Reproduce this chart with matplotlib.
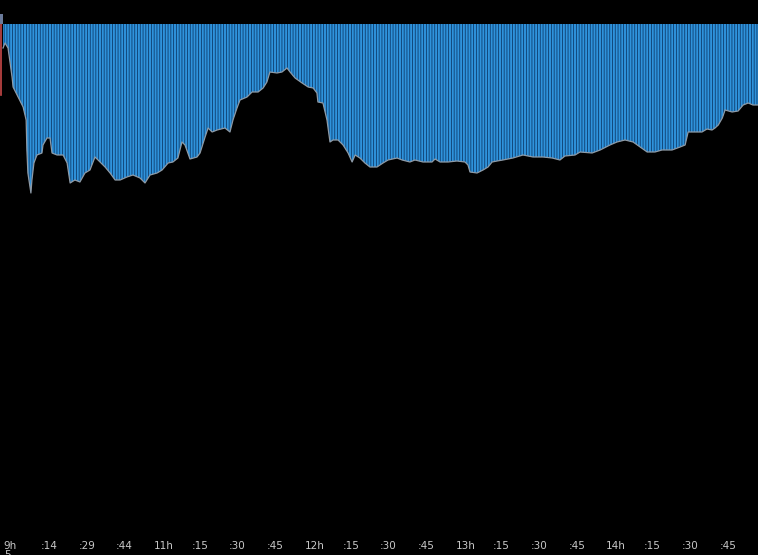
import matplotlib
matplotlib.use("Agg")
import matplotlib.pyplot as plt
from matplotlib.patches import Rectangle

# minutes since 9h
minutes = [0.0, 0.8, 2.0, 3.6, 4.0, 6.0, 8.0, 9.2, 9.5, 9.9, 11.1, 11.5, 12.3, 13.5, 15.5, 15.9,
           17.5, 18.7, 19.5, 21.5, 23.9, 25.5, 26.7, 28.6, 30.6, 32.6, 34.6, 36.6, 38.6, 40.6,
           42.6, 44.6, 46.6, 49.3, 51.7, 54.5, 56.5, 58.5, 61.3, 63.3, 65.7, 67.6, 69.6, 71.2,
           72.4, 74.4, 77.2, 78.4, 80.4, 81.6, 83.2, 85.2, 88.3, 90.3, 91.5, 93.1, 94.3, 97.1,
           99.1, 101.5, 103.5, 105.0, 106.2, 109.0, 111.0, 113.0, 114.2, 116.2, 119.0, 121.4,
           123.4, 124.9, 125.3, 127.3, 128.9, 130.1, 131.3, 133.3, 135.3, 137.3, 138.9, 140.1,
           142.0, 144.0, 146.0, 148.8, 151.2, 153.2, 156.8, 158.8, 161.9, 163.9, 167.1, 170.7,
           171.9, 173.9, 177.1, 180.6, 183.8, 185.0, 185.8, 188.6, 191.0, 193.0, 194.6, 196.6,
           198.9, 202.9, 206.9, 210.9, 214.9, 218.5, 221.6, 223.6, 227.6, 229.6, 234.4, 237.6,
           241.5, 244.3, 247.5, 250.7, 253.5, 256.3, 259.4, 262.2, 266.2, 269.4, 271.4, 272.6,
           275.4, 278.1, 280.1, 282.1, 283.3, 284.6, 286.2, 287.3, 290.1, 292.5, 294.5, 296.5,
           298.4, 300.4]
prices = [19.76, 19.81, 19.76, 19.47, 19.37, 19.27, 19.17, 19.04, 18.74, 18.51, 18.31, 18.44,
          18.61, 18.69, 18.71, 18.79, 18.86, 18.86, 18.71, 18.69, 18.69, 18.61, 18.41, 18.44,
          18.42, 18.51, 18.54, 18.67, 18.62, 18.57, 18.51, 18.44, 18.44, 18.47, 18.49, 18.46,
          18.41, 18.49, 18.51, 18.54, 18.61, 18.62, 18.66, 18.82, 18.79, 18.65, 18.67, 18.71,
          18.87, 18.96, 18.92, 18.94, 18.96, 18.92, 19.04, 19.16, 19.24, 19.27, 19.32, 19.32,
          19.36, 19.42, 19.52, 19.51, 19.52, 19.56, 19.52, 19.46, 19.41, 19.37, 19.36, 19.31,
          19.22, 19.21, 19.04, 18.82, 18.84, 18.84, 18.79, 18.71, 18.62, 18.69, 18.66, 18.61,
          18.57, 18.57, 18.61, 18.64, 18.66, 18.64, 18.62, 18.64, 18.62, 18.62, 18.65, 18.62,
          18.62, 18.63, 18.62, 18.59, 18.52, 18.51, 18.54, 18.57, 18.62, 18.63, 18.64, 18.66,
          18.69, 18.67, 18.67, 18.66, 18.64, 18.68, 18.69, 18.72, 18.71, 18.74, 18.79, 18.82,
          18.84, 18.82, 18.77, 18.72, 18.72, 18.74, 18.74, 18.77, 18.79, 18.92, 18.92, 18.92,
          18.95, 18.94, 18.96, 18.99, 19.06, 19.14, 19.12, 19.13, 19.19, 19.21, 19.19, 19.19]
baseline = 20.00
open_marker = 19.29

tick_minutes = [0, 15, 30, 45, 60, 75, 90, 105, 120, 135, 150, 165, 180, 195, 210, 225,
                240, 255, 270, 285]
tick_labels = ["9h", ":14", ":29", ":44", "11h", ":15", ":30", ":45", "12h", ":15", ":30",
               ":45", "13h", ":15", ":30", ":45", "14h", ":15", ":30", ":45"]

W, H = 758, 555
plt.rcParams['hatch.linewidth'] = 0.6
fig = plt.figure(figsize=(W / 100, H / 100), dpi=100, facecolor='black')
ax = fig.add_axes([0, 20 / H, 1, 511 / H], facecolor='black')

ax.fill_between(minutes, prices, baseline, facecolor='#2f93dc', edgecolor='#0d3c6c',
                hatch='|' * 6, linewidth=0)
ax.plot(minutes, prices, color='#8e9aa6', lw=0.9)
ax.plot([minutes[0] - 0.9, minutes[0] - 0.9], [baseline, open_marker], color='#c84848', lw=1.2)

ax.set_xlim(-1.2, 300.4)
ax.set_ylim(14.89, 20.00)
for s in ax.spines.values():
    s.set_visible(False)
ax.set_yticks([])
ax.set_xticks(tick_minutes)
ax.set_xticklabels(tick_labels, ha='left')
ax.tick_params(axis='x', length=0, pad=4, labelsize=7.5, labelcolor='#c8c8c8')

fig.patches.append(Rectangle((0, 1 - 24 / H), 3 / W, 10 / H, transform=fig.transFigure,
                             facecolor='#6a7a9a', edgecolor='none'))
fig.text(4 / W, 1 - 550 / H, "5", va='top', ha='left', fontsize=7.5, color='#c8c8c8')

fig.savefig("out.png", dpi=100, facecolor='black')
